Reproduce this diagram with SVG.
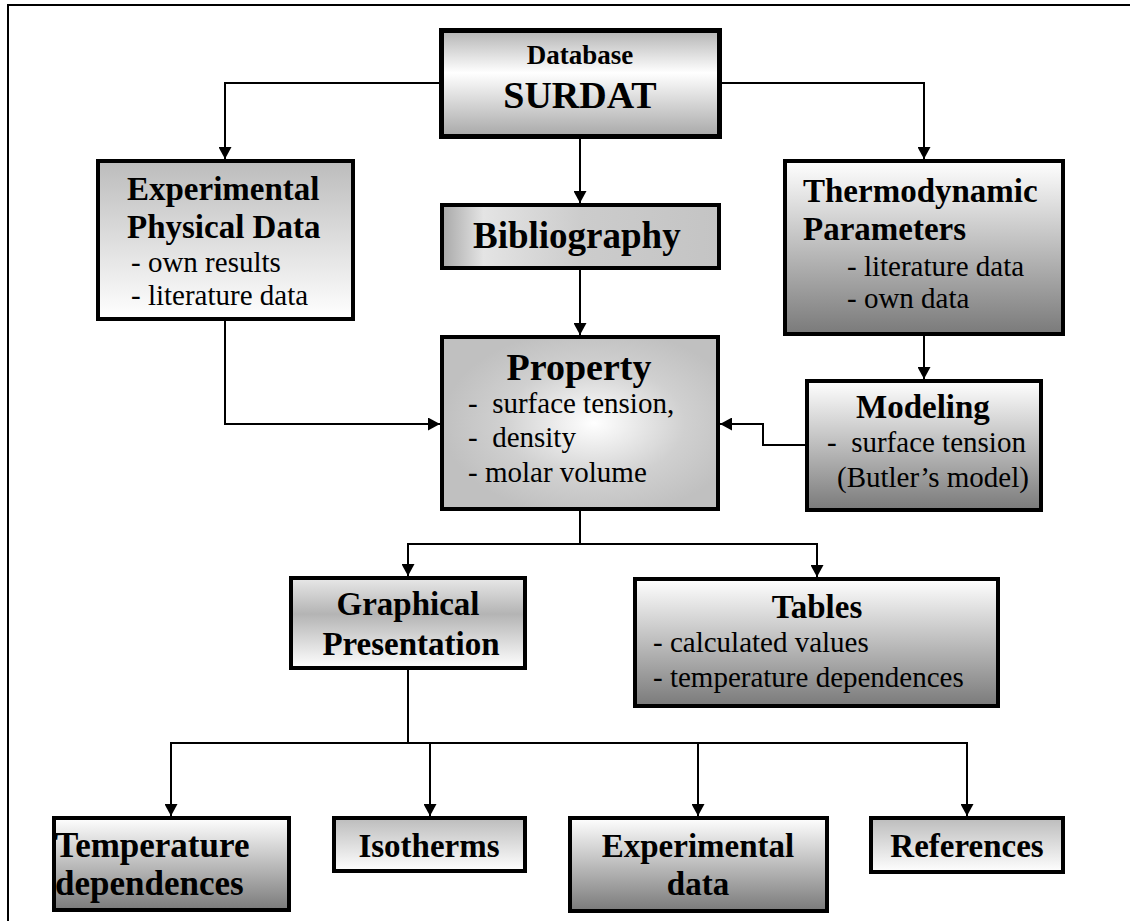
<svg xmlns="http://www.w3.org/2000/svg" width="1130" height="921" viewBox="0 0 1130 921">
<style>
.box{stroke:#000;stroke-width:4}
.b{font-family:"Liberation Serif","Times New Roman",serif;font-weight:bold;fill:#000}
.r{font-family:"Liberation Serif","Times New Roman",serif;font-size:29px;fill:#000}
.c{text-anchor:middle}
.conn{fill:none;stroke:#000;stroke-width:2}
</style>
<defs>
<marker id="ah" markerWidth="12" markerHeight="13" refX="12" refY="6.5" orient="auto" markerUnits="userSpaceOnUse">
<path d="M0,0 L12,6.5 L0,13 Z" fill="#000"/>
</marker>
<linearGradient id="gRefl" x1="0" y1="0" x2="0" y2="1">
<stop offset="0" stop-color="#b4b4b4"/><stop offset="0.4" stop-color="#ffffff"/><stop offset="1" stop-color="#a8a8a8"/>
</linearGradient>
<linearGradient id="gGrayWhite" x1="0" y1="0" x2="0" y2="1">
<stop offset="0" stop-color="#bcbcbc"/><stop offset="1" stop-color="#ffffff"/>
</linearGradient>
<linearGradient id="gWhiteDark" x1="0" y1="0" x2="0" y2="1">
<stop offset="0" stop-color="#ffffff"/><stop offset="1" stop-color="#7a7a7a"/>
</linearGradient>
<linearGradient id="gBib" x1="0" y1="0" x2="1" y2="0">
<stop offset="0" stop-color="#a8a8a8"/><stop offset="0.15" stop-color="#e4e4e4"/><stop offset="0.5" stop-color="#cccccc"/><stop offset="1" stop-color="#c4c4c4"/>
</linearGradient>
<radialGradient id="gProp" cx="0.55" cy="0.5" r="0.55">
<stop offset="0" stop-color="#ffffff"/><stop offset="0.6" stop-color="#d0d0d0"/><stop offset="1" stop-color="#c0c0c0"/>
</radialGradient>
<linearGradient id="gGraph" x1="0" y1="0" x2="0" y2="1">
<stop offset="0" stop-color="#e8e8e8"/><stop offset="0.4" stop-color="#b4b4b4"/><stop offset="1" stop-color="#ffffff"/>
</linearGradient>
</defs>
<path d="M8,921 V5 H1130" fill="none" stroke="#000" stroke-width="2"/>
<g id="connectors">
<path class="conn" d="M439,83 H225 V159" marker-end="url(#ah)"/>
<path class="conn" d="M722,83 H924 V159" marker-end="url(#ah)"/>
<path class="conn" d="M580,139 V203" marker-end="url(#ah)"/>
<path class="conn" d="M580,270 V335" marker-end="url(#ah)"/>
<path class="conn" d="M225,321 V424 H440" marker-end="url(#ah)"/>
<path class="conn" d="M924,336 V379" marker-end="url(#ah)"/>
<path class="conn" d="M805,445 H763 V424 H720" marker-end="url(#ah)"/>
<path class="conn" d="M580,511 V544"/>
<path class="conn" d="M580,544 H408 V576" marker-end="url(#ah)"/>
<path class="conn" d="M580,544 H817 V577" marker-end="url(#ah)"/>
<path class="conn" d="M408,670 V743"/>
<path class="conn" d="M408,743 H171 V816" marker-end="url(#ah)"/>
<path class="conn" d="M408,743 H967 V816" marker-end="url(#ah)"/>
<path class="conn" d="M430,743 V816" marker-end="url(#ah)"/>
<path class="conn" d="M698,743 V816" marker-end="url(#ah)"/>
</g>
<g id="surdat">
<rect class="box" x="441.5" y="30.5" width="278" height="106" fill="url(#gRefl)" style="stroke-width:5"/>
<text class="b c" x="580" y="64" font-size="27">Database</text>
<text class="b c" x="580" y="108" font-size="38">SURDAT</text>
</g>
<g id="experimental-physical-data">
<rect class="box" x="98" y="161" width="255" height="158" fill="url(#gGrayWhite)"/>
<text class="b" x="127" y="200" font-size="33">Experimental</text>
<text class="b" x="127" y="238" font-size="33">Physical Data</text>
<text class="r" x="131" y="272">- own results</text>
<text class="r" x="131" y="305">- literature data</text>
</g>
<g id="bibliography">
<rect class="box" x="442" y="205" width="277" height="63" fill="url(#gBib)"/>
<text class="b" x="473" y="248" font-size="37">Bibliography</text>
</g>
<g id="thermodynamic-parameters">
<rect class="box" x="785" y="161" width="278" height="173" fill="url(#gWhiteDark)"/>
<text class="b" x="803" y="202" font-size="33">Thermodynamic</text>
<text class="b" x="803" y="240" font-size="33">Parameters</text>
<text class="r" x="847" y="276">- literature data</text>
<text class="r" x="847" y="308">- own data</text>
</g>
<g id="property">
<rect class="box" x="442" y="337" width="276" height="172" fill="url(#gProp)"/>
<text class="b c" x="579" y="380" font-size="38">Property</text>
<text class="r" x="468" y="413">-&#160; surface tension,</text>
<text class="r" x="468" y="447">-&#160; density</text>
<text class="r" x="468" y="482">- molar volume</text>
</g>
<g id="modeling">
<rect class="box" x="807" y="381" width="234" height="129" fill="url(#gWhiteDark)"/>
<text class="b" x="856" y="418" font-size="33">Modeling</text>
<text class="r" x="827" y="452">-&#160; surface tension</text>
<text class="r" x="837" y="487">(Butler’s model)</text>
</g>
<g id="graphical-presentation">
<rect class="box" x="291" y="578" width="234" height="90" fill="url(#gGraph)"/>
<text class="b c" x="408" y="615" font-size="33">Graphical</text>
<text class="b c" x="411" y="655" font-size="33">Presentation</text>
</g>
<g id="tables">
<rect class="box" x="635" y="579" width="363" height="127" fill="url(#gWhiteDark)"/>
<text class="b c" x="817" y="618" font-size="33">Tables</text>
<text class="r" x="653" y="652">- calculated values</text>
<text class="r" x="653" y="687">- temperature dependences</text>
</g>
<g id="temperature-dependences">
<rect class="box" x="54" y="818" width="235" height="92" fill="url(#gWhiteDark)"/>
<text class="b" x="55" y="857" font-size="35">Temperature</text>
<text class="b" x="55" y="895" font-size="35">dependences</text>
</g>
<g id="isotherms">
<rect class="box" x="334" y="818" width="191" height="53" fill="url(#gGrayWhite)"/>
<text class="b c" x="429" y="857" font-size="33">Isotherms</text>
</g>
<g id="experimental-data">
<rect class="box" x="570" y="818" width="257" height="93" fill="url(#gWhiteDark)"/>
<text class="b c" x="698" y="857" font-size="33">Experimental</text>
<text class="b c" x="698" y="895" font-size="33">data</text>
</g>
<g id="references">
<rect class="box" x="871" y="818" width="192" height="54" fill="url(#gGrayWhite)"/>
<text class="b c" x="967" y="857" font-size="33">References</text>
</g>
</svg>
